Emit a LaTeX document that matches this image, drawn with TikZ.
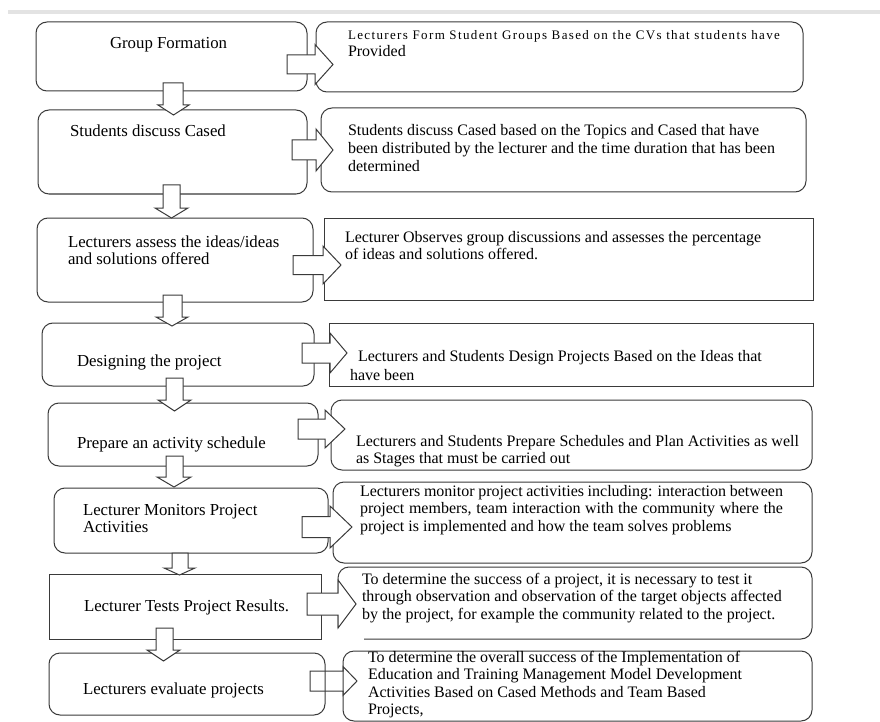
\documentclass[tikz,border=0pt]{standalone}
\usepackage{fontspec}
\setmainfont{Liberation Serif}
\definecolor{ln}{HTML}{3A3A3A}
\definecolor{bar}{HTML}{E3E3E3}
\tikzset{
  bx/.style={draw=ln, line width=1pt, inner sep=0pt, outer sep=0pt, anchor=north west},
  rbx/.style={bx, rounded corners=11pt},
  tx/.style={anchor=base west, inner sep=0pt, outer sep=0pt, text=black, font=\fontsize{16}{17.6}\selectfont},
  ltx/.style={tx, font=\fontsize{16.8}{17.4}\selectfont},
  blk/.style={draw=ln, line width=1pt, fill=white, line join=miter},
  blko/.style={draw=ln, line width=1pt, line join=miter},
}
\newcommand\ml[1]{\begin{tabular}[t]{@{}l@{}}#1\end{tabular}}
% right block arrow: style, x0, x1, xtip, ycenter, shaft half, head half
\newcommand\rarr[7][blk]{\draw[#1] (#2,#5-#6) -- (#3,#5-#6) -- (#3,#5-#7) -- (#4,#5) -- (#3,#5+#7) -- (#3,#5+#6) -- (#2,#5+#6) -- cycle;}
% down block arrow: shaft x1, shaft x2, top, head y, head x1, head x2, tip y
\newcommand\darr[7]{\draw[blk] (#1,#3) -- (#2,#3) -- (#2,#4) -- (#6,#4) -- ({(#5+#6)/2},#7) -- (#5,#4) -- (#1,#4) -- cycle;}
\begin{document}
\begin{tikzpicture}[x=1pt,y=-1pt]
\fill[white] (0,0) rectangle (880,722);
\useasboundingbox (0,0) rectangle (880,722);
\fill[bar] (8,10) rectangle (880,14);

% left boxes
\node[rbx, minimum width=271pt, minimum height=69pt] (L1) at (36,22) {};
\node[rbx, minimum width=269pt, minimum height=84pt] (L2) at (38,110) {};
\node[rbx, minimum width=276pt, minimum height=84pt] (L3) at (37,218) {};
\node[rbx, minimum width=272pt, minimum height=63pt] (L4) at (42,323) {};
\node[rbx, minimum width=270pt, minimum height=63pt] (L5) at (48,403) {};
\node[rbx, minimum width=274pt, minimum height=65pt] (L6) at (54,488) {};
\node[bx,  minimum width=272pt, minimum height=65pt] (L7) at (49,574) {};
\node[rbx, minimum width=276pt, minimum height=62pt] (L8) at (49,653) {};

% right boxes
\node[rbx, minimum width=487pt, minimum height=70pt] (R1) at (316,22) {};
\node[rbx, minimum width=485pt, minimum height=84pt] (R2) at (321,108) {};
\node[bx,  minimum width=489pt, minimum height=82pt] (R3) at (324,218) {};
\node[bx,  minimum width=484pt, minimum height=63pt] (R4) at (329,323) {};
\node[rbx, minimum width=481pt, minimum height=70pt] (R5) at (331,400) {};
\node[rbx, minimum width=479pt, minimum height=81pt] (R6) at (333,482) {};
\draw[draw=ln, line width=1pt, rounded corners=11pt] (338,628) -- (338,567) -- (812,567) -- (812,639) -- (364,639);
\coordinate (R7) at (575,603);
\node[rbx, minimum width=469pt, minimum height=70pt] (R8) at (343,651) {};

% right arrows
\rarr{287}{315}{333}{64.5}{9.5}{20}
\rarr{292}{316}{333}{150}{10}{21}
\rarr{293}{323}{341}{265}{9.5}{19}
\rarr{302}{330}{347}{353}{10}{20}
\rarr{298}{325}{345}{429}{10}{19}
\rarr{302}{330}{352}{527}{10.5}{21}
\rarr{307}{338}{356}{604}{11}{24}
\rarr[blko]{310}{343}{357}{681}{10}{14.5}

% down arrows
\darr{163}{183}{83}{105}{158}{189}{115}
\darr{163}{180}{185}{208}{155}{188}{218}
\darr{163}{182}{295}{317}{156}{188}{326}
\darr{166}{183}{378}{400}{158}{191}{411}
\darr{166}{183}{456}{477}{157}{191}{487}
\darr{172}{188}{553}{568}{164}{195}{575}
\darr{156}{173}{628}{650}{147}{180}{661}

% left texts
\node[ltx] (t1) at (110,49) {Group Formation};
\node[ltx] (t2) at (70,137) {Students discuss Cased};
\node[ltx] (t3) at (68,247) {\ml{Lecturers assess the ideas/ideas\\and solutions offered}};
\node[ltx] (t4) at (77,366) {Designing the project};
\node[ltx] (t5) at (77,448) {Prepare an activity schedule};
\node[ltx] (t6) at (83,515) {\ml{Lecturer Monitors Project\\Activities}};
\node[ltx] (t7) at (84,611) {Lecturer Tests Project Results.};
\node[ltx] (t8) at (83,694) {Lecturers evaluate projects};

% right texts
\node[tx] (s1a) at (348,40) {\fontsize{13}{15}\selectfont\addfontfeature{LetterSpace=10.5}Lecturers Form Student Groups Based on the CVs that students have};
\node[tx] (s1b) at (348,57) {Provided};
\node[tx] (s2) at (348,136) {\ml{Students discuss Cased based on the Topics and Cased that have\\been distributed by the lecturer and the time duration that has been\\determined}};
\node[tx] (s3) at (345,242) {\ml{Lecturer Observes group discussions and assesses the percentage\\of ideas and solutions offered.}};
\node[tx] (s4a) at (358,361) {Lecturers and Students Design Projects Based on the Ideas that};
\node[tx] (s4b) at (350,380) {have been};
\node[tx] (s5) at (356,446) {\ml{Lecturers and Students Prepare Schedules and Plan Activities as well\\as Stages that must be carried out}};
\node[tx] (s6) at (360,496) {\ml{\makebox[423pt][s]{Lecturers monitor project activities including: interaction between}\\\makebox[423pt][s]{project members, team interaction with the community where the}\\project is implemented and how the team solves problems}};
\node[tx] (s7) at (362,584) {\ml{To determine the success of a project, it is necessary to test it\\through observation and observation of the target objects affected\\by the project, for example the community related to the project.}};
\node[tx] (s8) at (368,662) {\ml{To determine the overall success of the Implementation of\\Education and Training Management Model Development\\Activities Based on Cased Methods and Team Based\\Projects,}};
\end{tikzpicture}
\end{document}
